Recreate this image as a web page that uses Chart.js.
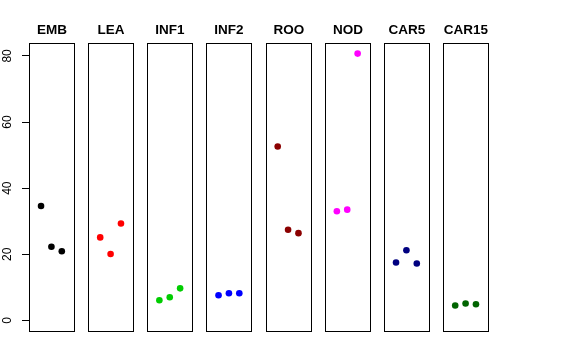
<!DOCTYPE html>
<html>
<head>
<meta charset="utf-8">
<script src="https://cdn.jsdelivr.net/npm/chart.js@4/dist/chart.umd.min.js"></script>
<style>
  html, body { margin: 0; padding: 0; background: #fff; }
  #wrap { position: relative; width: 576px; height: 360px; }
</style>
</head>
<body>
<div id="wrap"><canvas id="c" width="576" height="360"></canvas></div>
<script>
// ---- data ----
const categories = ["EMB", "LEA", "INF1", "INF2", "ROO", "NOD", "CAR5", "CAR15"];
const colors = ["#000000", "#FF0000", "#00CD00", "#0000FF", "#8B0000", "#FF00FF", "#000080", "#006400"];
const EMB   = [34.6, 22.3, 20.9];
const LEA   = [25.1, 20.1, 29.3];
const INF1  = [6.1, 7.0, 9.7];
const INF2  = [7.6, 8.2, 8.2];
const ROO   = [52.6, 27.4, 26.4];
const NOD   = [33.0, 33.5, 80.7];
const CAR5  = [17.5, 21.2, 17.2];
const CAR15 = [4.5, 5.1, 4.9];
const seriesValues = [EMB, LEA, INF1, INF2, ROO, NOD, CAR5, CAR15];
const yTicks = [0, 20, 40, 60, 80];

// ---- layout constants ----
const PANEL_PITCH = 5.70;   // x-units between panel starts
const PANEL_PAD = 0.16;     // x-units of padding around points 1..3 (R's 4% of 0..4)
const PANEL_LO = 0 - PANEL_PAD, PANEL_HI = 4 + PANEL_PAD;

const datasets = seriesValues.map((vals, k) => ({
  label: categories[k],
  data: vals.map((v, j) => ({ x: k * PANEL_PITCH + (j + 1), y: v })),
  backgroundColor: colors[k],
  borderColor: colors[k],
  pointRadius: 3.3,
  pointBorderWidth: 0,
  showLine: false
}));

const panelPlugin = {
  id: 'panels',
  beforeDatasetsDraw(chart) {
    const ctx = chart.ctx, xs = chart.scales.x, ca = chart.chartArea;
    ctx.save();
    ctx.strokeStyle = '#000';
    ctx.lineWidth = 1;
    categories.forEach((name, k) => {
      const l = Math.round(xs.getPixelForValue(k * PANEL_PITCH + PANEL_LO)) + 0.5;
      const r = Math.round(xs.getPixelForValue(k * PANEL_PITCH + PANEL_HI)) + 0.5;
      const t = Math.round(ca.top) + 0.5, b = Math.round(ca.bottom) + 0.5;
      ctx.strokeRect(l, t, r - l, b - t);
      ctx.fillStyle = '#000';
      ctx.font = 'bold 13.5px "Liberation Sans", Arial, sans-serif';
      ctx.textAlign = 'center';
      ctx.textBaseline = 'alphabetic';
      ctx.fillText(name, (l + r) / 2, t - 9.5);
    });
    ctx.restore();
  },
  afterDraw(chart) {
    const ctx = chart.ctx, ys = chart.scales.y;
    ctx.save();
    ctx.fillStyle = '#000';
    ctx.font = '12px "Liberation Sans", Arial, sans-serif';
    ctx.textAlign = 'center';
    ctx.textBaseline = 'middle';
    ys.ticks.forEach(t => {
      const py = ys.getPixelForValue(t.value);
      ctx.save();
      ctx.translate(8, py);
      ctx.rotate(-Math.PI / 2);
      ctx.fillText(String(t.value), 0, 0);
      ctx.restore();
    });
    ctx.restore();
  }
};

new Chart(document.getElementById('c'), {
  type: 'scatter',
  data: { datasets },
  options: {
    responsive: false,
    animation: false,
    layout: { padding: { top: 43, bottom: 29, left: 0, right: 88 } },
    plugins: { legend: { display: false }, tooltip: { enabled: false }, title: { display: false } },
    scales: {
      x: {
        type: 'linear',
        display: false,
        min: PANEL_LO,
        max: 7 * PANEL_PITCH + PANEL_HI
      },
      y: {
        type: 'linear',
        min: -3.2,
        max: 83.9,
        afterBuildTicks: (s) => { s.ticks = yTicks.map(v => ({ value: v })); },
        afterFit: (s) => { s.width = 29; },
        ticks: { display: false },
        border: { display: false },
        grid: { drawOnChartArea: false, drawTicks: true, tickLength: 7, color: '#000', lineWidth: 1 }
      }
    }
  },
  plugins: [panelPlugin]
});
</script>
</body>
</html>
